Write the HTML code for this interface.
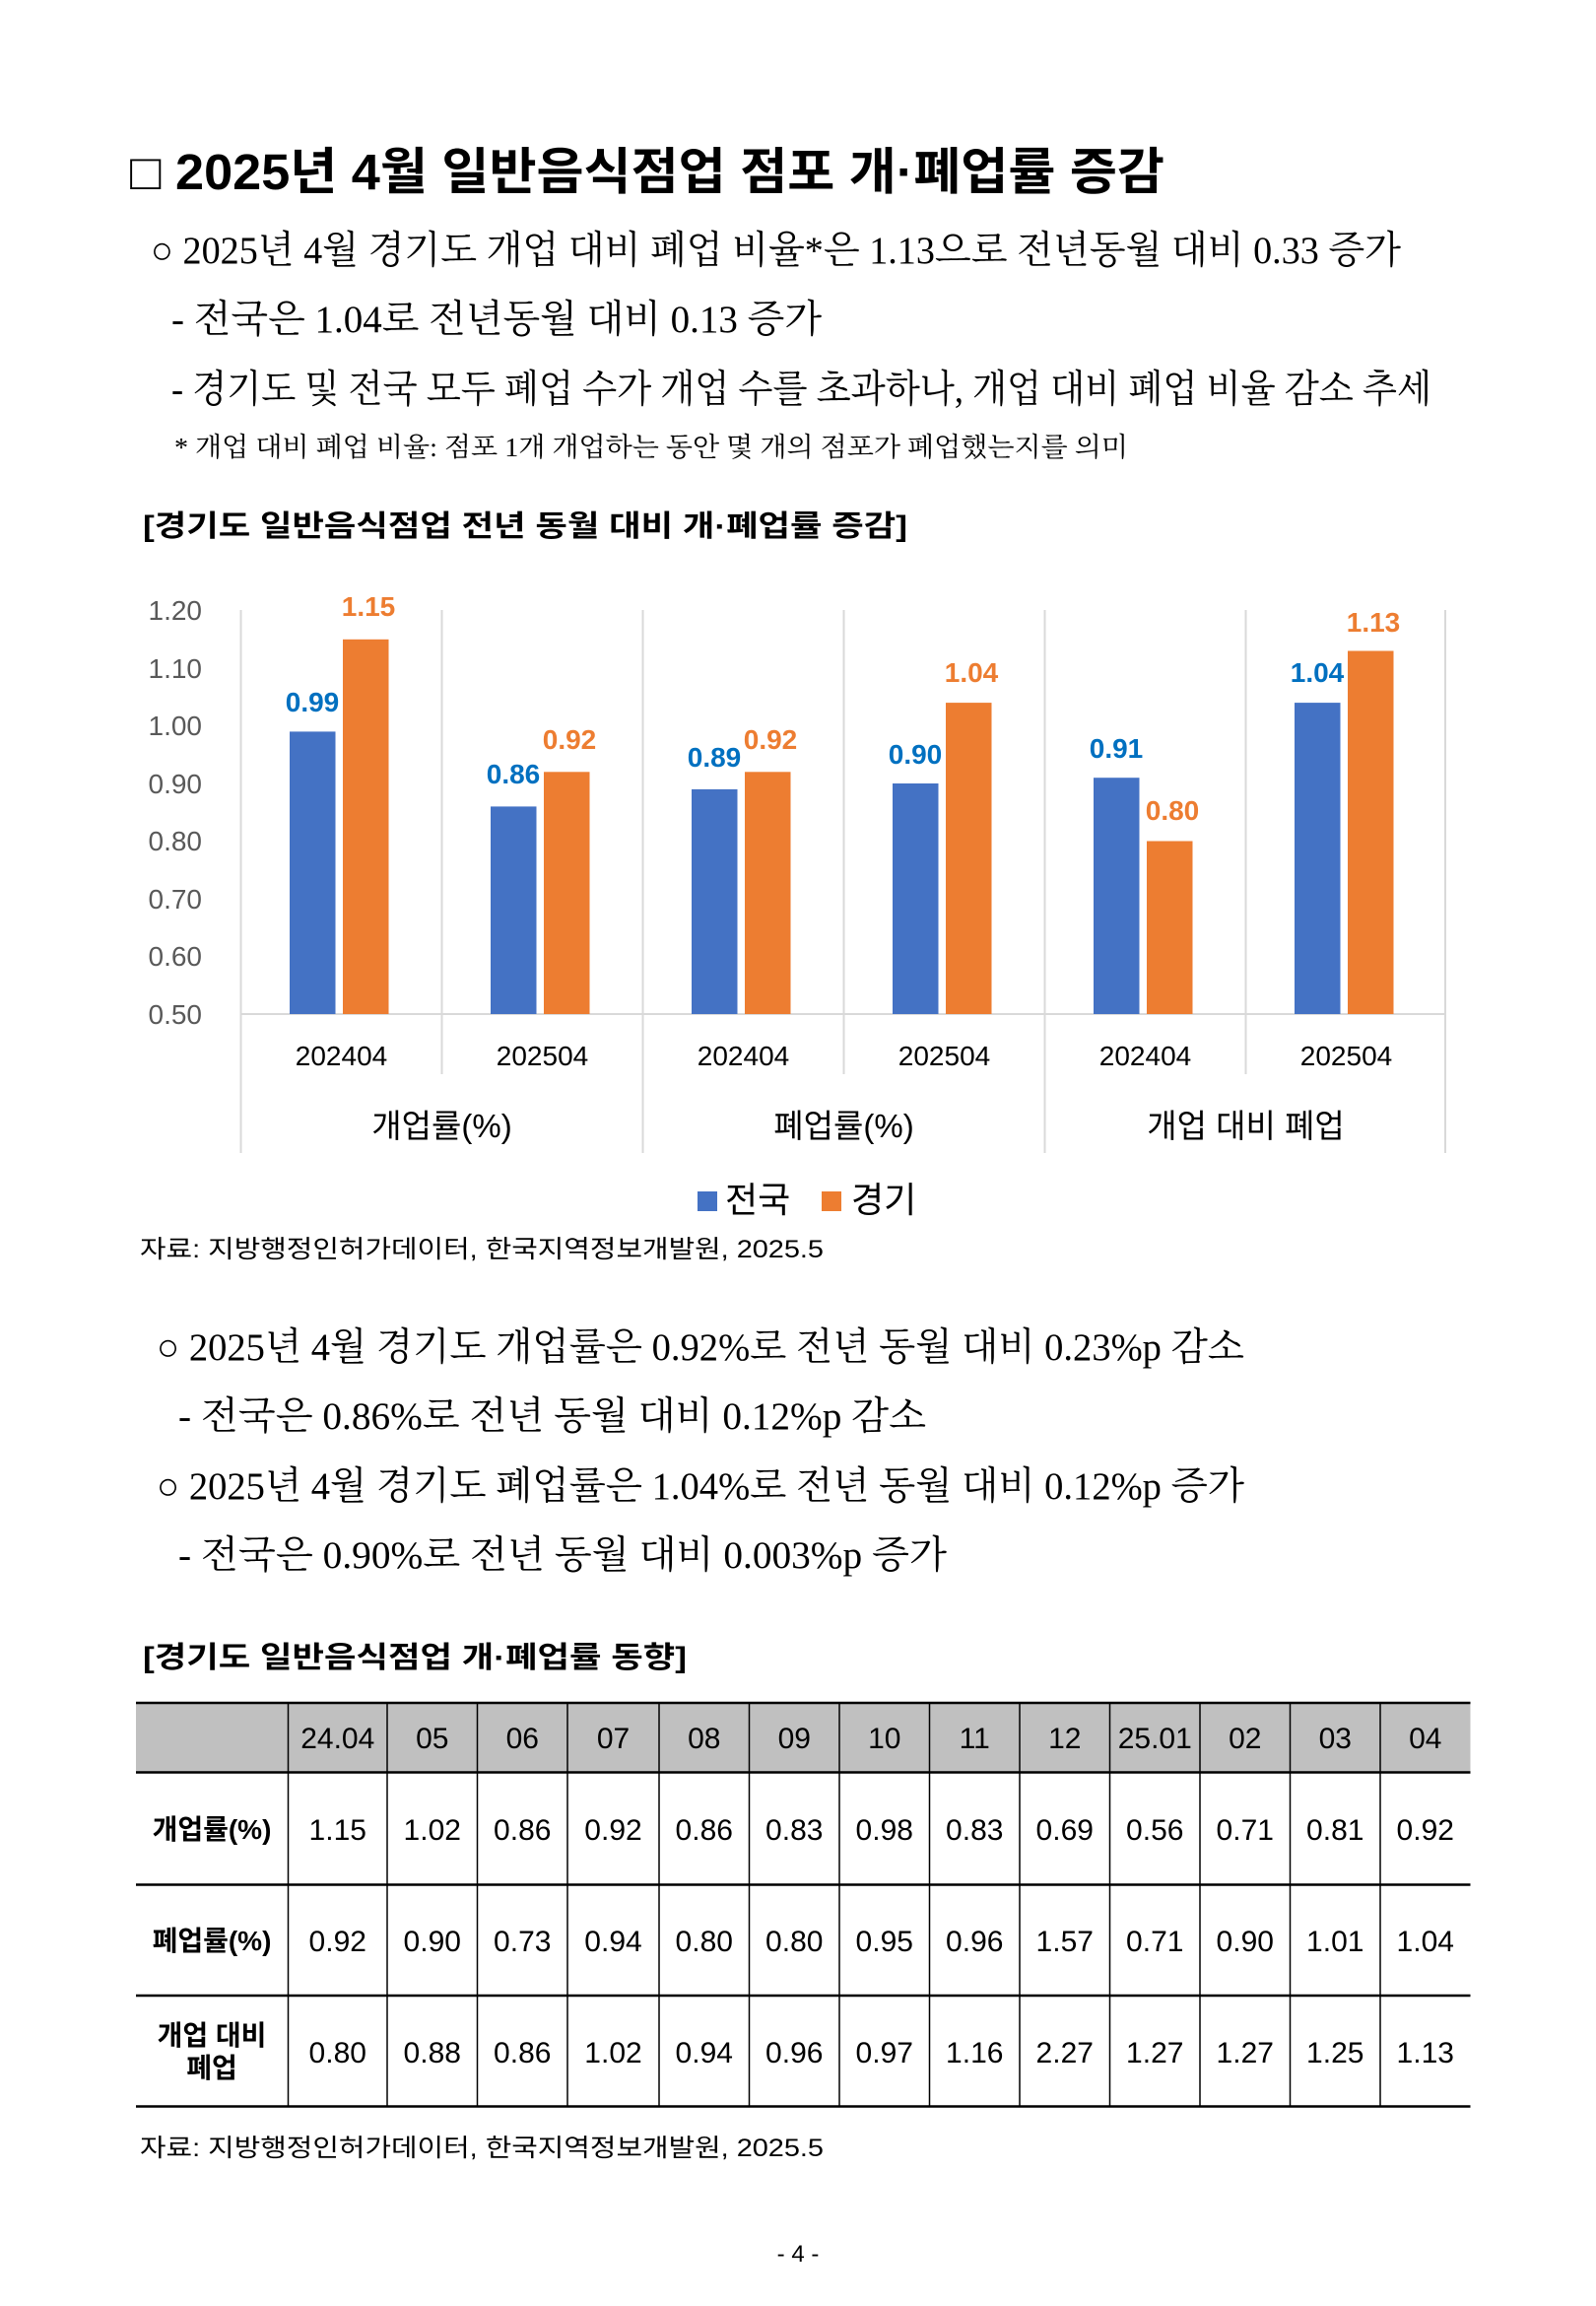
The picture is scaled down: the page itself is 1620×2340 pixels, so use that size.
<!DOCTYPE html>
<html><head><meta charset="utf-8"><style>
html,body{margin:0;padding:0;background:#fff}
svg{display:block}
.sans{font-family:"Liberation Sans","Noto Sans CJK KR",sans-serif}
.ser{font-family:"Liberation Serif","Noto Serif CJK SC",serif}
</style></head><body>
<svg width="1620" height="2340" viewBox="0 0 1620 2340" xmlns="http://www.w3.org/2000/svg">
<rect width="1620" height="2340" fill="#fff"/>
<g class="sans" fill="#000">
<text x="132" y="192" font-size="51" font-weight="bold" textLength="1050" lengthAdjust="spacingAndGlyphs">□ 2025년 4월 일반음식점업 점포 개·폐업률 증감</text>
</g>
<g class="ser" fill="#000" font-size="39">
<text x="153" y="267" textLength="1269" lengthAdjust="spacingAndGlyphs">○ 2025년 4월 경기도 개업 대비 폐업 비율*은 1.13으로 전년동월 대비 0.33 증가</text>
<text x="174" y="337" textLength="660" lengthAdjust="spacingAndGlyphs">- 전국은  1.04로 전년동월 대비 0.13 증가</text>
<text x="174" y="408" textLength="1279" lengthAdjust="spacingAndGlyphs">- 경기도 및 전국 모두 폐업 수가 개업 수를 초과하나, 개업 대비 폐업 비율 감소 추세</text>
<text x="177" y="463" font-size="27" textLength="968" lengthAdjust="spacingAndGlyphs">* 개업 대비 폐업 비율: 점포 1개 개업하는 동안 몇 개의 점포가 폐업했는지를 의미</text>
<text x="159" y="1380" textLength="1104" lengthAdjust="spacingAndGlyphs">○ 2025년 4월 경기도 개업률은 0.92%로 전년 동월 대비 0.23%p 감소</text>
<text x="181" y="1450" textLength="759" lengthAdjust="spacingAndGlyphs">- 전국은  0.86%로 전년 동월 대비 0.12%p  감소</text>
<text x="159" y="1521" textLength="1104" lengthAdjust="spacingAndGlyphs">○ 2025년 4월 경기도 폐업률은 1.04%로 전년 동월 대비 0.12%p 증가</text>
<text x="181" y="1591" textLength="780" lengthAdjust="spacingAndGlyphs">- 전국은  0.90%로 전년 동월 대비 0.003%p  증가</text>
</g>
<g class="sans" fill="#000">
<text x="145" y="544" font-size="30" font-weight="bold" textLength="776" lengthAdjust="spacingAndGlyphs">[경기도 일반음식점업 전년 동월 대비 개·폐업률 증감]</text>
<text x="142" y="1276" font-size="25" textLength="694" lengthAdjust="spacingAndGlyphs">자료: 지방행정인허가데이터, 한국지역정보개발원, 2025.5</text>
<text x="145" y="1692" font-size="30" font-weight="bold" textLength="552" lengthAdjust="spacingAndGlyphs">[경기도 일반음식점업 개·폐업률 동향]</text>
<text x="142" y="2188" font-size="25" textLength="694" lengthAdjust="spacingAndGlyphs">자료: 지방행정인허가데이터, 한국지역정보개발원, 2025.5</text>
<text x="810" y="2295" font-size="24" text-anchor="middle">- 4 -</text>
</g>
<!-- chart -->
<g stroke="#d9d9d9" stroke-width="2">
<line x1="244.5" y1="619" x2="244.5" y2="1170"/>
<line x1="652.5" y1="619" x2="652.5" y2="1170"/>
<line x1="1060.5" y1="619" x2="1060.5" y2="1170"/>
<line x1="1467" y1="619" x2="1467" y2="1170"/>
<line x1="448.5" y1="619" x2="448.5" y2="1090"/>
<line x1="856.5" y1="619" x2="856.5" y2="1090"/>
<line x1="1264.5" y1="619" x2="1264.5" y2="1090"/>
<line x1="244.5" y1="1029" x2="1467" y2="1029"/>
</g>
<g class="sans" fill="#595959" font-size="28" text-anchor="end">
<text x="205" y="629">1.20</text><text x="205" y="688">1.10</text><text x="205" y="746">1.00</text>
<text x="205" y="805">0.90</text><text x="205" y="863">0.80</text><text x="205" y="922">0.70</text>
<text x="205" y="980">0.60</text><text x="205" y="1039">0.50</text>
</g>
<g fill="#4472C4">
<rect x="294" y="742.4" width="46.5" height="286.6"/>
<rect x="498" y="818.4" width="46.5" height="210.6"/>
<rect x="702" y="800.9" width="46.5" height="228.1"/>
<rect x="906" y="795" width="46.5" height="234"/>
<rect x="1110" y="789.2" width="46.5" height="239.8"/>
<rect x="1314" y="713.1" width="46.5" height="315.9"/>
</g>
<g fill="#ED7D31">
<rect x="348" y="648.8" width="46.5" height="380.2"/>
<rect x="552" y="783.3" width="46.5" height="245.7"/>
<rect x="756" y="783.3" width="46.5" height="245.7"/>
<rect x="960" y="713.1" width="46.5" height="315.9"/>
<rect x="1164" y="853.5" width="46.5" height="175.5"/>
<rect x="1368" y="660.5" width="46.5" height="368.5"/>
</g>
<g class="sans" font-size="28" font-weight="bold" text-anchor="middle">
<g fill="#0070C0">
<text x="317" y="722">0.99</text><text x="521" y="795">0.86</text><text x="725" y="778">0.89</text>
<text x="929" y="775">0.90</text><text x="1133" y="769">0.91</text><text x="1337" y="692">1.04</text>
</g>
<g fill="#ED7D31">
<text x="374" y="625">1.15</text><text x="578" y="760">0.92</text><text x="782" y="760">0.92</text>
<text x="986" y="692">1.04</text><text x="1190" y="832">0.80</text><text x="1394" y="641">1.13</text>
</g>
</g>
<g class="sans" fill="#000" font-size="28" text-anchor="middle">
<text x="346.5" y="1081">202404</text><text x="550.5" y="1081">202504</text>
<text x="754.5" y="1081">202404</text><text x="958.5" y="1081">202504</text>
<text x="1162.5" y="1081">202404</text><text x="1366.5" y="1081">202504</text>
<text x="448.5" y="1154" font-size="33">개업률(%)</text>
<text x="856.5" y="1154" font-size="33">폐업률(%)</text>
<text x="1264.5" y="1154" font-size="33">개업 대비 폐업</text>
</g>
<rect x="708" y="1209" width="20" height="20" fill="#4472C4"/>
<text x="736" y="1230" class="sans" font-size="36">전국</text>
<rect x="834" y="1209" width="20" height="20" fill="#ED7D31"/>
<text x="864" y="1230" class="sans" font-size="36">경기</text>
<!-- table -->
<rect x="138" y="1728" width="1354.5" height="70.5" fill="#c0c0c0"/>
<g stroke="#000" stroke-width="1.5">
<line x1="292.5" y1="1728" x2="292.5" y2="2137"/><line x1="393" y1="1728" x2="393" y2="2137"/>
<line x1="484.5" y1="1728" x2="484.5" y2="2137"/><line x1="576" y1="1728" x2="576" y2="2137"/>
<line x1="669" y1="1728" x2="669" y2="2137"/><line x1="760.5" y1="1728" x2="760.5" y2="2137"/>
<line x1="852" y1="1728" x2="852" y2="2137"/><line x1="943.5" y1="1728" x2="943.5" y2="2137"/>
<line x1="1035" y1="1728" x2="1035" y2="2137"/><line x1="1126.5" y1="1728" x2="1126.5" y2="2137"/>
<line x1="1218" y1="1728" x2="1218" y2="2137"/><line x1="1309.5" y1="1728" x2="1309.5" y2="2137"/>
<line x1="1401" y1="1728" x2="1401" y2="2137"/>
</g>
<g stroke="#000" stroke-width="2.5">
<line x1="138" y1="1728" x2="1492.5" y2="1728"/><line x1="138" y1="1798.5" x2="1492.5" y2="1798.5"/>
<line x1="138" y1="1912.5" x2="1492.5" y2="1912.5"/><line x1="138" y1="2025" x2="1492.5" y2="2025"/>
<line x1="138" y1="2137.5" x2="1492.5" y2="2137.5"/>
</g>
<g class="sans" fill="#000" font-size="30" text-anchor="middle">
<g>
<text x="342.75" y="1774">24.04</text><text x="438.75" y="1774">05</text><text x="530.25" y="1774">06</text>
<text x="622.5" y="1774">07</text><text x="714.75" y="1774">08</text><text x="806.25" y="1774">09</text>
<text x="897.75" y="1774">10</text><text x="989.25" y="1774">11</text><text x="1080.75" y="1774">12</text>
<text x="1172.25" y="1774">25.01</text><text x="1263.75" y="1774">02</text><text x="1355.25" y="1774">03</text><text x="1446.75" y="1774">04</text>
</g>
<g>
<text x="342.75" y="1867">1.15</text><text x="438.75" y="1867">1.02</text><text x="530.25" y="1867">0.86</text>
<text x="622.5" y="1867">0.92</text><text x="714.75" y="1867">0.86</text><text x="806.25" y="1867">0.83</text>
<text x="897.75" y="1867">0.98</text><text x="989.25" y="1867">0.83</text><text x="1080.75" y="1867">0.69</text>
<text x="1172.25" y="1867">0.56</text><text x="1263.75" y="1867">0.71</text><text x="1355.25" y="1867">0.81</text><text x="1446.75" y="1867">0.92</text>
</g>
<g>
<text x="342.75" y="1980">0.92</text><text x="438.75" y="1980">0.90</text><text x="530.25" y="1980">0.73</text>
<text x="622.5" y="1980">0.94</text><text x="714.75" y="1980">0.80</text><text x="806.25" y="1980">0.80</text>
<text x="897.75" y="1980">0.95</text><text x="989.25" y="1980">0.96</text><text x="1080.75" y="1980">1.57</text>
<text x="1172.25" y="1980">0.71</text><text x="1263.75" y="1980">0.90</text><text x="1355.25" y="1980">1.01</text><text x="1446.75" y="1980">1.04</text>
</g>
<g>
<text x="342.75" y="2093">0.80</text><text x="438.75" y="2093">0.88</text><text x="530.25" y="2093">0.86</text>
<text x="622.5" y="2093">1.02</text><text x="714.75" y="2093">0.94</text><text x="806.25" y="2093">0.96</text>
<text x="897.75" y="2093">0.97</text><text x="989.25" y="2093">1.16</text><text x="1080.75" y="2093">2.27</text>
<text x="1172.25" y="2093">1.27</text><text x="1263.75" y="2093">1.27</text><text x="1355.25" y="2093">1.25</text><text x="1446.75" y="2093">1.13</text>
</g>
<g font-weight="bold" font-size="28">
<text x="215" y="1866">개업률(%)</text>
<text x="215" y="1979">폐업률(%)</text>
<text x="215" y="2075">개업 대비</text>
<text x="215" y="2108">폐업</text>
</g>
</g>
</svg>
</body></html>
